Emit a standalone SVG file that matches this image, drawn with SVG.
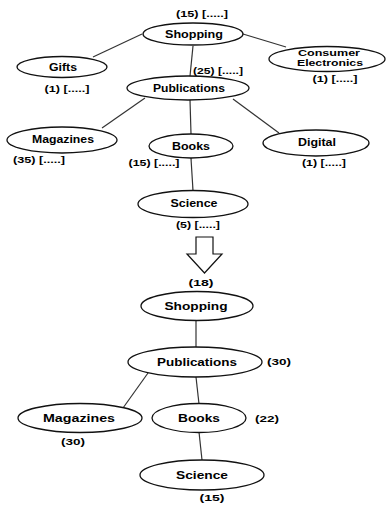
<svg xmlns="http://www.w3.org/2000/svg" width="386" height="506" viewBox="0 0 386 506">
<style>
.n{fill:#fff;stroke:#111;stroke-width:1.3}
.t{font-family:"Liberation Sans",Arial,sans-serif;font-weight:bold;font-size:10px;text-anchor:middle;fill:#000}
.b{font-size:10.5px}
.s{font-size:9px}
.c{font-family:"Liberation Sans",Arial,sans-serif;font-weight:bold;font-size:9px;text-anchor:middle;fill:#000}
.e line{stroke:#333;stroke-width:1.2}
</style>
<rect width="386" height="506" fill="#fff"/>
<g id="connectors" class="e">
<line x1="142" y1="34" x2="93" y2="57"/>
<line x1="243" y1="34" x2="286" y2="47"/>
<line x1="193" y1="46" x2="190" y2="76"/>
<line x1="145" y1="98" x2="102" y2="128"/>
<line x1="190" y1="100" x2="191" y2="134"/>
<line x1="233" y1="99" x2="279" y2="133"/>
<line x1="191" y1="158" x2="193" y2="191"/>
<line x1="196" y1="320" x2="196" y2="347"/>
<line x1="148" y1="373" x2="123" y2="408"/>
<line x1="196" y1="377" x2="199" y2="404"/>
<line x1="199" y1="432" x2="202" y2="460"/>
</g>
<g id="shopping1"><ellipse class="n" cx="193" cy="34" rx="50" ry="11"/><text class="t" x="194" y="37.5" textLength="58" lengthAdjust="spacingAndGlyphs">Shopping</text><text class="c" x="202" y="17" textLength="52" lengthAdjust="spacingAndGlyphs">(15) [.....]</text></g>
<g id="gifts"><ellipse class="n" cx="62" cy="67" rx="45" ry="10.5"/><text class="t" x="63" y="70.5" textLength="28" lengthAdjust="spacingAndGlyphs">Gifts</text><text class="c" x="67" y="92" textLength="45" lengthAdjust="spacingAndGlyphs">(1) [.....]</text></g>
<g id="consumer"><ellipse class="n" cx="327" cy="59" rx="58" ry="12.5"/><text class="t s" x="329" y="56" textLength="62" lengthAdjust="spacingAndGlyphs">Consumer</text><text class="t s" x="330" y="65.5" textLength="66" lengthAdjust="spacingAndGlyphs">Electronics</text><text class="c" x="335" y="82" textLength="45" lengthAdjust="spacingAndGlyphs">(1) [.....]</text></g>
<g id="publications1"><ellipse class="n" cx="188" cy="88" rx="61" ry="12"/><text class="t" x="189" y="91.5" textLength="72" lengthAdjust="spacingAndGlyphs">Publications</text><text class="c" x="218" y="74" textLength="50" lengthAdjust="spacingAndGlyphs">(25) [.....]</text></g>
<g id="magazines1"><ellipse class="n" cx="62" cy="140" rx="55" ry="13"/><text class="t" x="63" y="142.5" textLength="62" lengthAdjust="spacingAndGlyphs">Magazines</text><text class="c" x="39" y="163" textLength="52" lengthAdjust="spacingAndGlyphs">(35) [.....]</text></g>
<g id="books1"><ellipse class="n" cx="191" cy="146" rx="42" ry="12"/><text class="t" x="191" y="149.5" textLength="38" lengthAdjust="spacingAndGlyphs">Books</text><text class="c" x="154" y="166" textLength="51" lengthAdjust="spacingAndGlyphs">(15) [.....]</text></g>
<g id="digital"><ellipse class="n" cx="316" cy="143" rx="53" ry="13"/><text class="t" x="317" y="145.5" textLength="38" lengthAdjust="spacingAndGlyphs">Digital</text><text class="c" x="324" y="166" textLength="44" lengthAdjust="spacingAndGlyphs">(1) [.....]</text></g>
<g id="science1"><ellipse class="n" cx="193" cy="204" rx="55" ry="13.5"/><text class="t" x="194" y="206.5" textLength="47" lengthAdjust="spacingAndGlyphs">Science</text><text class="c" x="198" y="228" textLength="44" lengthAdjust="spacingAndGlyphs">(5) [.....]</text></g>
<g id="arrow"><polygon points="196,237 213,237 213,254 222,254 204.5,273 187,254 196,254" fill="#fff" stroke="#111" stroke-width="1.2"/></g>
<g id="shopping2"><ellipse class="n" cx="197" cy="306" rx="56" ry="14.5"/><text class="t b" x="196" y="309.5" textLength="63" lengthAdjust="spacingAndGlyphs">Shopping</text><text class="c" x="201" y="286" textLength="25" lengthAdjust="spacingAndGlyphs">(18)</text></g>
<g id="publications2"><ellipse class="n" cx="195" cy="362" rx="67" ry="15"/><text class="t b" x="197" y="365.5" textLength="80" lengthAdjust="spacingAndGlyphs">Publications</text><text class="c" x="279" y="365" textLength="24" lengthAdjust="spacingAndGlyphs">(30)</text></g>
<g id="magazines2"><ellipse class="n" cx="80" cy="418" rx="62" ry="14.5"/><text class="t b" x="79" y="421.5" textLength="72" lengthAdjust="spacingAndGlyphs">Magazines</text><text class="c" x="73" y="445" textLength="24" lengthAdjust="spacingAndGlyphs">(30)</text></g>
<g id="books2"><ellipse class="n" cx="199" cy="418" rx="47" ry="14.5"/><text class="t b" x="199" y="421.5" textLength="42" lengthAdjust="spacingAndGlyphs">Books</text><text class="c" x="267" y="422" textLength="24" lengthAdjust="spacingAndGlyphs">(22)</text></g>
<g id="science2"><ellipse class="n" cx="202" cy="475" rx="62" ry="15"/><text class="t b" x="202" y="478.5" textLength="52" lengthAdjust="spacingAndGlyphs">Science</text><text class="c" x="212" y="501" textLength="25" lengthAdjust="spacingAndGlyphs">(15)</text></g>
</svg>
